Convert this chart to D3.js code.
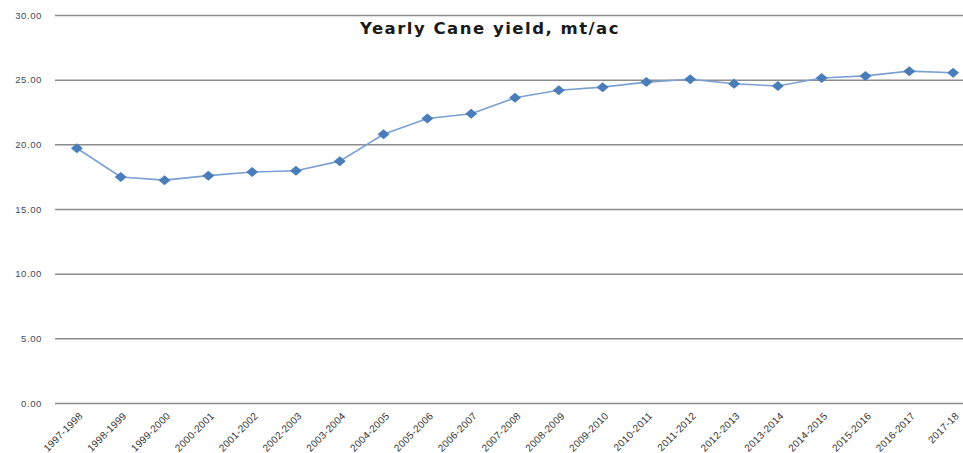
<!DOCTYPE html>
<html><head><meta charset="utf-8">
<script src="https://cdn.jsdelivr.net/npm/d3@7"></script>
<style>body{margin:0;background:#fff}svg{display:block}</style>
</head><body><div id="chart"></div>
<script>
const categories = ["1997-1998","1998-1999","1999-2000","2000-2001","2001-2002","2002-2003","2003-2004","2004-2005","2005-2006","2006-2007","2007-2008","2008-2009","2009-2010","2010-2011","2011-2012","2012-2013","2013-2014","2014-2015","2015-2016","2016-2017","2017-18"];
const yieldValues = [19.70,17.48,17.23,17.58,17.86,17.96,18.70,20.78,22.00,22.36,23.60,24.18,24.42,24.81,25.03,24.68,24.51,25.13,25.29,25.66,25.54];
const yTicks = [0,5,10,15,20,25,30];
const title = "Yearly Cane yield, mt/ac";

const W = 963, H = 453;
const m = {left:55, right:-12, top:15, bottom:50};
const svg = d3.select("#chart").append("svg").attr("width",W).attr("height",H);
const x = d3.scaleBand().domain(categories).range([m.left, W - m.right]);
const y = d3.scaleLinear().domain([0,30]).range([H - m.bottom, m.top]);

const yAxis = svg.append("g").attr("transform",`translate(${m.left},0)`)
  .call(d3.axisLeft(y).tickValues(yTicks).tickFormat(d3.format(".2f")).tickSize(-(W - m.left - m.right)).tickPadding(13));
yAxis.select(".domain").remove();
yAxis.selectAll(".tick line").attr("stroke","#8c8c8c").attr("stroke-width",1.5);
yAxis.selectAll(".tick text").attr("fill","#404a5a").attr("font-family","Liberation Sans, Arial, sans-serif")
  .attr("font-size","9.5px").attr("letter-spacing","0.6px");

const xAxis = svg.append("g").attr("transform",`translate(0,${H - m.bottom})`)
  .call(d3.axisBottom(x).tickSize(0));
xAxis.select(".domain").remove();
xAxis.selectAll(".tick text")
  .attr("fill","#333").attr("font-family","Liberation Sans, Arial, sans-serif").attr("font-size","10px")
  .attr("letter-spacing","0.3px")
  .attr("text-anchor","end").attr("x",0).attr("y",0).attr("dy","0.35em")
  .attr("transform","translate(4,11) rotate(-45)");

const cx = d => x(d) + x.bandwidth()/2;
const line = d3.line().x((d,i)=>cx(categories[i])).y(d=>y(d));
svg.append("path").datum(yieldValues).attr("d",line)
  .attr("fill","none").attr("stroke","#7ba0d4").attr("stroke-width",1.6);

const diamond = "M0,-5L6,0L0,5L-6,0Z";
svg.append("g").selectAll("path").data(yieldValues).join("path")
  .attr("d", diamond)
  .attr("transform",(d,i)=>`translate(${cx(categories[i])},${y(d)})`)
  .attr("fill","#4a7ebb");

svg.append("text").attr("x",490).attr("y",34).attr("text-anchor","middle")
  .attr("font-family","DejaVu Sans, Verdana, sans-serif").attr("font-weight","bold")
  .attr("font-size","16.5px").attr("letter-spacing","1.5px").attr("fill","#1a1a1a").text(title);
</script></body></html>
